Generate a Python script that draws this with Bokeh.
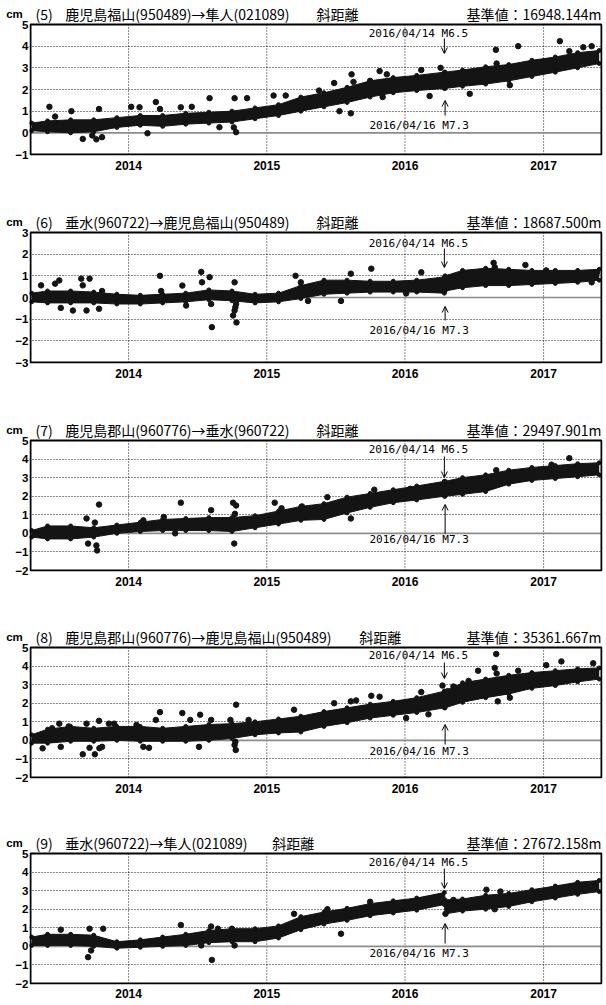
import pandas as pd
from bokeh.plotting import figure
from bokeh.layouts import column
from bokeh.core.properties import value
from bokeh.models import (Arrow, OpenHead, Span, FixedTicker, Range1d,
                          DatetimeTickFormatter, CustomJSTickFormatter)
from bokeh.embed import file_html
from bokeh.resources import INLINE

# ---------------- data ----------------
BAND_DATES = ["2013-04-20", "2013-06-01", "2013-08-01", "2013-10-01", "2013-12-01",
              "2014-02-01", "2014-04-01", "2014-06-01", "2014-08-01", "2014-10-01",
              "2014-12-01", "2015-02-01", "2015-04-01", "2015-06-01", "2015-08-01",
              "2015-10-01", "2015-12-01", "2016-02-01", "2016-04-14", "2016-04-16",
              "2016-06-01", "2016-08-01", "2016-10-01", "2016-12-01", "2017-02-01",
              "2017-04-01", "2017-05-28"]

P5_LO = [0.10, 0.05, 0.00, 0.05, 0.25, 0.35, 0.30, 0.40, 0.45, 0.50, 0.65, 0.80, 1.00, 1.20,
         1.40, 1.65, 1.85, 1.95, 2.05, 2.05, 2.15, 2.25, 2.40, 2.60, 2.80, 3.00, 3.20]
P5_HI = [0.45, 0.55, 0.60, 0.60, 0.70, 0.80, 0.80, 0.90, 0.95, 1.00, 1.15, 1.30, 1.65, 1.85,
         2.10, 2.40, 2.55, 2.65, 2.80, 2.80, 2.90, 3.05, 3.15, 3.35, 3.50, 3.70, 3.80]
P5_OUT_D = ["2013-06-06", "2013-06-21", "2013-08-03", "2013-09-02", "2013-09-27", "2013-10-15",
            "2013-10-08", "2013-10-23", "2014-01-08", "2014-01-30", "2014-02-20", "2014-03-14",
            "2014-03-25", "2014-05-19", "2014-06-17", "2014-08-03", "2014-08-29", "2014-10-08",
            "2014-10-12", "2014-10-06", "2014-11-10", "2015-01-19", "2015-02-20", "2015-05-19",
            "2015-06-28", "2015-07-12", "2015-08-11", "2015-08-13", "2015-08-18", "2015-10-01",
            "2015-10-26", "2015-11-14", "2015-11-03", "2016-02-13", "2016-03-06", "2016-04-04",
            "2016-06-20", "2016-08-28", "2016-08-30", "2016-10-04", "2016-10-26", "2017-02-13",
            "2017-03-10", "2017-04-16", "2017-05-08"]
P5_OUT_V = [1.20, 0.75, 1.00, -0.28, -0.12, 1.10, -0.30, -0.20, 1.20, 1.18, -0.02, 1.42,
            1.10, 1.18, 1.20, 1.60, 0.26, 1.60, 0.03, 0.25, 1.60, 1.72, 1.72, 1.95,
            2.30, 1.00, 0.90, 2.70, 2.35, 2.40, 2.85, 2.70, 1.65, 2.90, 1.70, 3.00,
            1.80, 3.83, 3.20, 2.20, 4.00, 4.23, 3.77, 3.95, 4.00]

P6_LO = [-0.20, -0.25, -0.25, -0.25, -0.30, -0.30, -0.25, -0.20, -0.10, -0.15, -0.25, -0.20,
         -0.05, 0.15, 0.20, 0.25, 0.25, 0.25, 0.20, 0.30, 0.45, 0.55, 0.55, 0.60, 0.65, 0.70, 0.80]
P6_HI = [0.20, 0.30, 0.30, 0.25, 0.15, 0.10, 0.15, 0.20, 0.35, 0.30, 0.15, 0.20, 0.55, 0.80,
         0.80, 0.75, 0.75, 0.80, 0.95, 1.00, 1.25, 1.35, 1.30, 1.25, 1.25, 1.25, 1.30]
P6_OUT_D = ["2013-05-15", "2013-06-21", "2013-07-02", "2013-07-06", "2013-08-07", "2013-08-29",
            "2013-09-02", "2013-09-20", "2013-09-12", "2013-10-15", "2013-10-23", "2014-03-25",
            "2014-03-28", "2014-05-23", "2014-06-02", "2014-07-12", "2014-07-14", "2014-08-03",
            "2014-08-07", "2014-08-09", "2014-10-08", "2014-10-04", "2014-10-08", "2014-10-12",
            "2014-10-13", "2014-10-10", "2015-03-18", "2015-04-01", "2015-04-20", "2015-07-16",
            "2015-08-11", "2015-10-04", "2016-01-04", "2016-02-13", "2016-08-22", "2016-08-25",
            "2016-11-14", "2017-01-08", "2017-05-08", "2017-05-22"]
P6_OUT_V = [0.56, 0.64, 0.79, -0.48, -0.60, 0.87, 0.56, 0.87, -0.60, -0.52, 0.30, 1.00,
            0.30, 0.55, -0.37, 1.18, 0.70, 0.94, -0.30, -1.37, 0.70, -0.83, -0.60, -0.30,
            -1.15, -0.45, 1.00, 0.70, -0.16, -0.16, 1.10, 1.33, 0.19, 1.16, 1.60, 1.40,
            1.50, 1.25, 0.70, 1.15]

P7_LO = [-0.20, -0.30, -0.30, -0.20, 0.00, 0.10, 0.15, 0.15, 0.15, 0.10, 0.30, 0.50, 0.70,
         0.75, 1.10, 1.40, 1.65, 1.80, 2.00, 2.00, 2.10, 2.25, 2.65, 2.85, 2.95, 3.05, 3.15]
P7_HI = [0.15, 0.40, 0.40, 0.30, 0.45, 0.60, 0.75, 0.80, 0.85, 0.85, 0.95, 1.20, 1.45, 1.60,
         1.95, 2.15, 2.35, 2.55, 2.80, 2.80, 3.00, 3.15, 3.40, 3.55, 3.65, 3.75, 3.80]
P7_OUT_D = ["2013-09-12", "2013-09-16", "2013-10-04", "2013-10-08", "2013-10-10", "2013-10-15",
            "2014-02-09", "2014-04-04", "2014-05-19", "2014-05-04", "2014-08-07", "2014-10-04",
            "2014-10-12", "2014-10-09", "2014-10-07", "2015-01-22", "2015-02-09", "2015-04-04",
            "2015-06-10", "2015-08-11", "2015-10-12", "2016-01-15", "2016-08-29", "2017-03-10",
            "2017-01-22"]
P7_OUT_V = [0.80, -0.55, 0.58, -0.65, -0.92, 1.55, 0.70, 0.88, 1.65, 0.00, 1.25, 1.65,
            1.50, 1.05, -0.55, 1.65, 1.35, 1.45, 1.95, 0.80, 2.35, 2.40, 3.40, 4.05, 3.70]

P8_LO = [-0.15, -0.15, -0.05, -0.05, 0.00, -0.05, -0.05, -0.05, 0.00, 0.10, 0.30, 0.40, 0.45,
         0.75, 0.95, 1.20, 1.35, 1.50, 1.75, 1.75, 2.05, 2.30, 2.50, 2.80, 2.95, 3.15, 3.30]
P8_HI = [0.30, 0.60, 0.75, 0.65, 0.75, 0.75, 0.65, 0.75, 0.85, 0.90, 1.00, 1.15, 1.30, 1.55,
         1.75, 1.95, 2.10, 2.30, 2.65, 2.65, 3.10, 3.30, 3.50, 3.65, 3.75, 3.85, 3.90]
P8_OUT_D = ["2013-06-13", "2013-07-02", "2013-07-27", "2013-07-06", "2013-05-19", "2013-09-02",
            "2013-09-12", "2013-09-20", "2013-10-04", "2013-10-15", "2013-10-16", "2013-10-23",
            "2013-11-10", "2013-11-24", "2014-01-22", "2014-02-09", "2014-02-24", "2014-03-14",
            "2014-03-25", "2014-05-23", "2014-06-13", "2014-07-09", "2014-07-06", "2014-08-07",
            "2014-10-12", "2014-10-08", "2014-10-11", "2014-10-10", "2014-09-27", "2014-11-14",
            "2015-03-14", "2015-06-28", "2015-08-11", "2015-08-25", "2015-10-04", "2015-10-26",
            "2016-01-04", "2016-02-13", "2016-03-03", "2016-04-09", "2016-04-23", "2016-05-08",
            "2016-06-17", "2016-07-12", "2016-08-25", "2016-08-29", "2016-08-30", "2016-09-02",
            "2016-10-04", "2016-10-26", "2017-01-08", "2017-02-17", "2017-05-12"]
P8_OUT_V = [0.65, 0.90, 0.75, -0.35, -0.43, -0.75, 0.90, -0.40, -0.75, 1.05, -0.42, -0.35,
            0.90, 0.90, 0.83, -0.35, -0.40, 1.10, 1.52, 1.47, 1.10, 1.38, -0.35, 1.10,
            1.92, -0.25, -0.52, -0.08, 1.10, 1.10, 1.65, 2.00, 2.10, 2.15, 2.40, 2.35,
            1.20, 2.60, 1.40, 2.95, 2.65, 2.90, 3.20, 3.75, 3.90, 4.65, 3.60, 2.10,
            2.30, 3.75, 4.05, 4.25, 4.15]

P9_LO = [0.05, 0.05, 0.05, 0.00, -0.10, -0.05, 0.00, 0.05, 0.20, 0.25, 0.25, 0.45, 0.90, 1.20,
         1.40, 1.65, 1.80, 1.95, 2.25, 1.75, 1.90, 2.00, 2.15, 2.40, 2.60, 2.80, 2.95]
P9_HI = [0.50, 0.65, 0.65, 0.60, 0.25, 0.35, 0.50, 0.65, 0.85, 0.95, 0.95, 1.10, 1.60, 1.85,
         2.05, 2.30, 2.45, 2.60, 2.90, 2.50, 2.55, 2.75, 2.85, 3.05, 3.25, 3.45, 3.55]
P9_OUT_D = ["2013-07-06", "2013-09-20", "2013-09-16", "2013-09-24", "2013-10-26", "2014-05-19",
            "2014-08-07", "2014-08-09", "2014-07-12", "2014-08-25", "2014-10-01", "2014-10-08",
            "2015-03-14", "2015-06-10", "2015-07-16", "2015-10-01", "2016-08-03", "2016-04-17",
            "2016-05-08", "2016-08-25", "2016-09-09"]
P9_OUT_V = [0.90, 0.95, -0.58, -0.22, 0.95, 1.15, 1.07, -0.73, 0.05, 0.95, 0.95, 0.05,
            1.75, 2.00, 0.68, 2.40, 3.05, 1.75, 2.50, 2.00, 2.95]

UNIT = "cm"
TITLE_NUM = ["(5)", "(6)", "(7)", "(8)", "(9)"]
TITLE_MAIN = ["鹿児島福山(950489)→隼人(021089)",
              "垂水(960722)→鹿児島福山(950489)",
              "鹿児島郡山(960776)→垂水(960722)",
              "鹿児島郡山(960776)→鹿児島福山(950489)",
              "垂水(960722)→隼人(021089)"]
TITLE_KIND = "斜距離"
KIJUN = ["基準値：16948.144m", "基準値：18687.500m", "基準値：29497.901m",
         "基準値：35361.667m", "基準値：27672.158m"]
Y_RANGES = [(-1, 5), (-3, 3), (-2, 5), (-2, 5), (-2, 5)]
YEAR_TICKS = ["2014-01-01", "2015-01-01", "2016-01-01", "2017-01-01"]
X_START, X_END = "2013-04-17", "2017-06-03"
QUAKE_DATES = ["2016-04-14", "2016-04-16"]
QUAKE_TEXT = ["2016/04/14 M6.5", "2016/04/16 M7.3"]

BANDS = [(P5_LO, P5_HI), (P6_LO, P6_HI), (P7_LO, P7_HI), (P8_LO, P8_HI), (P9_LO, P9_HI)]
OUTS = [(P5_OUT_D, P5_OUT_V), (P6_OUT_D, P6_OUT_V), (P7_OUT_D, P7_OUT_V),
        (P8_OUT_D, P8_OUT_V), (P9_OUT_D, P9_OUT_V)]

# ---------------- layout / style ----------------
W = 606
BLOCK_H = [208, 208, 207, 206, 176]
HEAD = 24           # px between canvas top and the top of the plot box (title row)
BOX_H = 130         # plot box height, px
PAD = 1             # px of frame kept outside the box so its 2px outline is not clipped
BOX_L = [28, 28, 28, 28, 30]
BOX_R = [601, 601, 601, 601, 604]
X_STANDOFF = [5, 5, 5, 5, 4]
TITLE_UP = 10.5     # title row centre above the box top, px
NUM_X = [33, 33, 33, 33, 35]
MAIN_X = [63, 63, 63, 63, 65]
KIND_X = [315, 315, 315, 358, 273]
# quake annotation pixel offsets from the box top:
# (top text, down-arrow start, down-arrow end, up-arrow head, up-arrow tail, bottom text)
ARROW_PX = [(9, 14, 29, 76, 91, 101), (11, 16, 35, 74, 88, 98), (9, 16, 37, 64, 93, 99),
            (8, 15, 31, 77, 97, 104), (9, 15, 35, 70, 90, 100)]
CJK = "Noto Sans CJK JP"
SANS = "Liberation Sans"
MONO = "DejaVu Sans Mono"
INK = "#141414"
GRID = dict(line_color="#111111", line_width=1, line_dash="1 2")


def ms(d):
    return pd.Timestamp(d).value / 1e6


band_x = pd.to_datetime(BAND_DATES)
year_ticks = [ms(d) for d in YEAR_TICKS]
x0, x1 = ms(X_START), ms(X_END)

items = []
for i in range(5):
    ymin, ymax = Y_RANGES[i]
    upp = (ymax - ymin) / BOX_H                     # data units per px (y)
    mpp = (x1 - x0) / (BOX_R[i] - BOX_L[i])         # ms per px (x)
    frame_h = HEAD + BOX_H + PAD
    h = BLOCK_H[i]
    p = figure(width=W, height=h, x_axis_type="datetime",
               output_backend="svg", toolbar_location=None,
               x_range=Range1d(x0 - PAD * mpp, x1 + PAD * mpp),
               y_range=Range1d(ymin - PAD * upp, ymax + HEAD * upp),
               min_border_left=BOX_L[i] - PAD, min_border_right=W - BOX_R[i] - PAD,
               min_border_top=0, min_border_bottom=h - frame_h)
    p.background_fill_color = "white"
    p.border_fill_color = "white"
    p.outline_line_color = None

    title_y = ymax + TITLE_UP * upp

    # axes
    p.xaxis.ticker = FixedTicker(ticks=year_ticks)
    p.xaxis.formatter = DatetimeTickFormatter(years="%Y", months="%Y", days="%Y", hours="%Y",
                                              hourmin="%Y", minutes="%Y", minsec="%Y",
                                              seconds="%Y", milliseconds="%Y",
                                              microseconds="%Y")
    p.yaxis.ticker = FixedTicker(ticks=list(range(ymin, ymax + 1)) + [title_y])
    p.yaxis.formatter = CustomJSTickFormatter(
        args=dict(top=ymax, unit=UNIT),
        code="if (tick > top + 1e-6) { return unit + '\\u2002'; }"
             "return tick < 0 ? '\\u2212' + (-tick) : String(tick);")
    for ax in (p.xaxis[0], p.yaxis[0]):
        ax.axis_line_color = None
        ax.major_tick_line_color = None
        ax.minor_tick_line_color = None
        ax.major_tick_out = 0
        ax.major_tick_in = 0
        ax.major_label_text_font = SANS
        ax.major_label_text_font_style = "bold"
        ax.major_label_text_color = "black"
    p.xaxis.major_label_text_font_size = "12px"
    p.xaxis.major_label_standoff = X_STANDOFF[i]
    p.yaxis.major_label_text_font_size = "11.5px"
    p.yaxis.major_label_standoff = 1

    # grid: horizontal through the library grid, vertical limited to the box
    p.xgrid.visible = False
    p.ygrid.ticker = FixedTicker(ticks=[v for v in range(ymin + 1, ymax) if v != 0])
    p.ygrid.grid_line_color = GRID["line_color"]
    p.ygrid.grid_line_width = GRID["line_width"]
    p.ygrid.grid_line_dash = GRID["line_dash"]
    p.segment(x0=year_ticks, y0=[ymin] * len(year_ticks), x1=year_ticks,
              y1=[ymax] * len(year_ticks), **GRID)
    p.segment(x0=[x0], y0=[0], x1=[x1], y1=[0], line_color="#8c8c8c", line_width=1.6)

    # data
    lo, hi = BANDS[i]
    p.varea(x=band_x, y1=lo, y2=hi, fill_color=INK)
    p.line(band_x, lo, line_color=INK, line_width=1, line_join="round")
    p.line(band_x, hi, line_color=INK, line_width=1, line_join="round")
    p.scatter(list(band_x) * 2, lo + hi, marker="circle", size=4, color=INK)
    od, ov = OUTS[i]
    p.scatter(pd.to_datetime(od), ov, marker="circle", size=5.5, color=INK)

    # plot box
    p.quad(left=[x0], right=[x1], bottom=[ymin], top=[ymax], fill_color=None,
           line_color="black", line_width=2)

    # title row
    def xpx(px):
        return x0 + (px - BOX_L[i]) * mpp
    tk = dict(y=[title_y], text_baseline="middle", text_color="black",
              text_font=value(CJK), text_font_size="14px")
    p.text(x=[xpx(NUM_X[i])], text=[TITLE_NUM[i]], **tk)
    p.text(x=[xpx(MAIN_X[i])], text=[TITLE_MAIN[i]], **tk)
    p.text(x=[xpx(KIND_X[i])], text=[TITLE_KIND], **tk)
    p.text(x=[x1], text=[KIJUN[i]], text_align="right", **tk)

    # quake annotations
    def ypx(off):
        return ymax - off * upp
    a = ARROW_PX[i]
    qx0, qx1 = ms(QUAKE_DATES[0]), ms(QUAKE_DATES[1])
    p.text(x=[qx0, qx1], y=[ypx(a[0]), ypx(a[5])], text=QUAKE_TEXT,
           x_offset=-26, text_font=value(MONO), text_font_size="11px", text_align="center",
           text_baseline="middle", text_color="black")
    p.add_layout(Arrow(x_start=qx0, y_start=ypx(a[1]), x_end=qx0, y_end=ypx(a[2]),
                       line_color="black", line_width=1,
                       end=OpenHead(size=6, line_color="black", line_width=1)))
    p.add_layout(Arrow(x_start=qx1, y_start=ypx(a[4]), x_end=qx1, y_end=ypx(a[3]),
                       line_color="black", line_width=1,
                       end=OpenHead(size=6, line_color="black", line_width=1)))
    items.append(p)

layout = column(*items, spacing=0)
open("out.html", "w").write(file_html(layout, INLINE))
